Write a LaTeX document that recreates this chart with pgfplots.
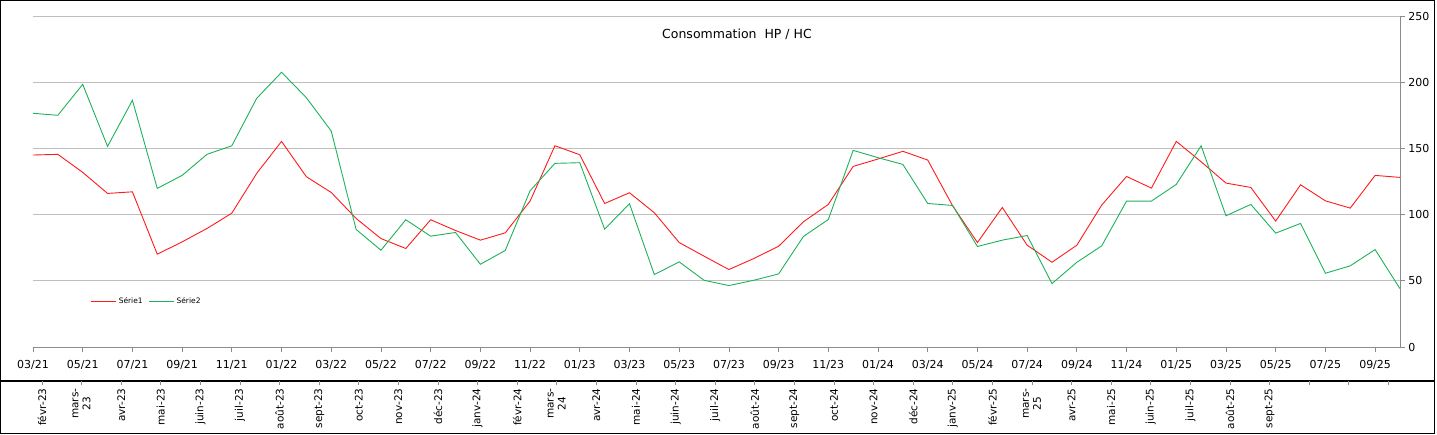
\documentclass[border=0pt]{standalone}
\usepackage{pgfplots}
\pgfplotsset{compat=1.18}
\usepackage{pgfplotstable}
\usepackage{fontspec}
\setmainfont{DejaVu Sans}
\definecolor{s1}{HTML}{FF1A1A}
\definecolor{s2}{HTML}{1DB25A}
\definecolor{gridc}{HTML}{BFBFBF}
\definecolor{axc}{HTML}{8C8C8C}

\pgfplotstableread{
i hp hc
0 145.0 176.5
1 145.5 175.0
2 131.9 198.4
3 116.0 151.5
4 117.2 186.3
5 70.1 119.8
6 79.4 129.6
7 89.5 145.5
8 101.1 152.0
9 131.1 187.8
10 155.3 207.5
11 128.6 188.3
12 116.7 163.1
13 97.1 88.8
14 81.9 73.1
15 74.4 96.1
16 96.1 83.7
17 88.0 86.5
18 80.7 62.5
19 86.2 72.9
20 110.2 118.0
21 152.0 138.7
22 145.2 139.2
23 108.4 89.0
24 116.5 108.2
25 101.4 54.7
26 78.9 64.3
27 68.6 50.4
28 58.5 46.4
29 66.8 50.4
30 76.1 55.2
31 94.6 83.5
32 107.7 96.3
33 136.4 148.5
34 142.0 143.0
35 147.8 137.9
36 141.2 108.4
37 106.7 106.9
38 78.9 75.9
39 105.4 80.7
40 76.9 84.2
41 64.0 47.9
42 76.9 64.0
43 107.2 76.4
44 128.8 110.2
45 120.0 110.2
46 155.3 122.8
47 139.9 152.0
48 123.8 99.1
49 120.5 107.7
50 95.1 86.0
51 122.5 93.3
52 110.4 55.7
53 104.9 61.3
54 129.6 73.6
55 128.1 44.1
}\datatable

\begin{document}
\begin{tikzpicture}[x=1pt,y=1pt]
\path[use as bounding box] (0,0) rectangle (1437,434);
\draw[black, line width=1.3pt] (0.65,0.65) rectangle (1434.5,433.35);
\draw[black, line width=1.3pt] (0,53) -- (1434.5,53);
\begin{axis}[
  at={(33pt,87pt)}, anchor=south west,
  scale only axis, width=1367pt, height=331pt,
  xmin=0, xmax=55, ymin=0, ymax=250,
  axis x line*=bottom, axis y line*=right,
  axis line style={draw=axc, line width=0.8pt},
  xtick={0,2,...,54},
  xticklabels={03/21,05/21,07/21,09/21,11/21,01/22,03/22,05/22,07/22,09/22,11/22,01/23,03/23,05/23,07/23,09/23,11/23,01/24,03/24,05/24,07/24,09/24,11/24,01/25,03/25,05/25,07/25,09/25},
  ytick={0,50,...,250},
  tick align=outside,
  major tick length=5pt,
  tick style={draw=axc, line width=0.8pt},
  ymajorgrids, grid style={draw=gridc, line width=0.8pt},
  tick label style={font=\fontsize{11}{13}\selectfont, text=black},
  xticklabel style={yshift=-5pt},
  /pgf/number format/assume math mode=true,
  title={Consommation\ \ HP / HC},
  title style={at={(0.515,0.925)}, anchor=center, font=\fontsize{12.5}{15}\selectfont},
  legend columns=2,
  legend style={draw=none, fill=none, at={(0.04,0.139)}, anchor=west,
    font=\fontsize{7.5}{9}\selectfont,
    /tikz/every even column/.append style={column sep=4pt}},
  legend image code/.code={\draw[#1] (0pt,0pt) -- (25pt,0pt);},
]
\addplot[s1, line width=0.9pt] table[x=i, y=hp] {\datatable};
\addlegendentry{Série1}
\addplot[s2, line width=0.9pt] table[x=i, y=hc] {\datatable};
\addlegendentry{Série2}
\end{axis}
\begin{axis}[
  at={(42pt,53pt)}, anchor=south west,
  scale only axis, width=1346.4pt, height=10pt,
  xmin=0, xmax=34, ymin=0, ymax=1,
  axis x line*=bottom, axis y line=none,
  axis line style={draw=none},
  xtick={0,...,34},
  xticklabels={févr-23,{mars-\\23},avr-23,mai-23,juin-23,juil-23,août-23,sept-23,oct-23,nov-23,déc-23,janv-24,févr-24,{mars-\\24},avr-24,mai-24,juin-24,juil-24,août-24,sept-24,oct-24,nov-24,déc-24,janv-25,févr-25,{mars-\\25},avr-25,mai-25,juin-25,juil-25,août-25,sept-25,{},{},{}},
  tick align=outside,
  major tick length=4pt,
  tick style={draw=axc, line width=0.8pt},
  xticklabel style={rotate=90, anchor=east, align=center, font=\fontsize{10.5}{12}\selectfont, text=black},
]
\addplot[draw=none] coordinates {(0,0) (34,1)};
\end{axis}
\end{tikzpicture}
\end{document}
